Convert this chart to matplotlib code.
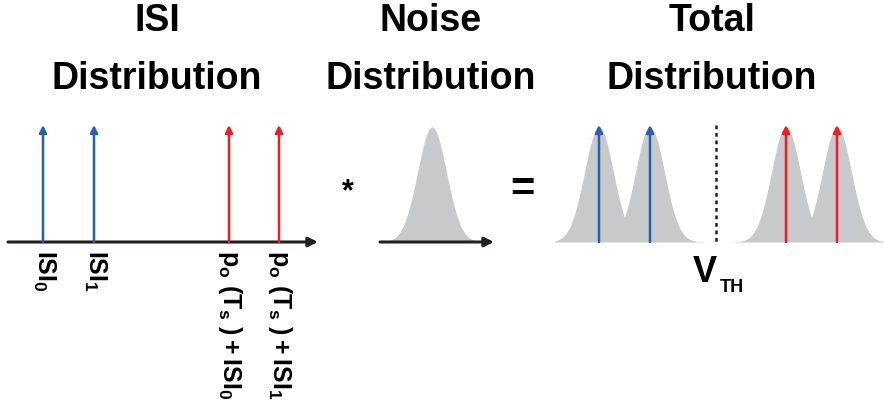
import numpy as np
import matplotlib
matplotlib.use("Agg")
import matplotlib.pyplot as plt

plt.rcParams['font.family'] = ['Liberation Sans Narrow', 'Liberation Sans', 'DejaVu Sans']
plt.rcParams['mathtext.fontset'] = 'custom'
plt.rcParams['mathtext.rm'] = 'Liberation Sans:bold'
plt.rcParams['mathtext.it'] = 'Liberation Sans:bold'
plt.rcParams['mathtext.bf'] = 'Liberation Sans:bold'
plt.rcParams['mathtext.default'] = 'rm'

# data (diagram positions on the pixel canvas)
titles = [("ISI", "Distribution"), ("Noise", "Distribution"), ("Total", "Distribution")]
title_x = [157, 431, 712]
isi_x = [43, 94]
isi_red_x = [229, 279]
isi_labels = [r"$ISI_0$", r"$ISI_1$", r"$p_o\ (T_s\ )+ISI_0$", r"$p_o\ (T_s\ )+ISI_1$"]
noise_center = 432
total_blue = [599, 650]
total_red = [786, 837]
v_th = 716
noise_sigma = 14.5
peak_h = 115.0

base_y = 242
top_y = 125
blue = '#2b5fad'
red = '#ee1c25'
gray = '#c8c9ca'

fig = plt.figure(figsize=(8.84, 4.03), dpi=100)
ax = fig.add_axes([0, 0, 1, 1])
ax.set_xlim(0, 884)
ax.set_ylim(403, 0)
ax.axis('off')

def axis_arrow(x0, x1):
    ax.annotate('', xy=(x1, base_y), xytext=(x0, base_y),
                arrowprops=dict(arrowstyle='-|>', color='#231f20', lw=2.2,
                                mutation_scale=14, shrinkA=0, shrinkB=0))

def impulse(x, c):
    ax.annotate('', xy=(x, top_y), xytext=(x, base_y),
                arrowprops=dict(arrowstyle='-|>', color=c, lw=1.8,
                                mutation_scale=11, shrinkA=0, shrinkB=0))

def gauss(xs, c):
    return peak_h * np.exp(-(xs - c) ** 2 / (2 * noise_sigma ** 2))

# titles
for (t1, t2), x in zip(titles, title_x):
    ax.text(x, 21, t1, ha='center', va='center', fontsize=27, fontweight='bold')
    ax.text(x, 79, t2, ha='center', va='center', fontsize=27, fontweight='bold')

# ISI panel
axis_arrow(8, 318)
for x in isi_x:
    impulse(x, blue)
for x in isi_red_x:
    impulse(x, red)
for x, lab in zip(isi_x + isi_red_x, isi_labels):
    ax.text(x + 1, 250, lab, rotation=270, ha='center', va='top', fontsize=18)

# noise panel
ax.text(348, 192, '*', ha='center', va='center', fontsize=22, fontweight='bold')
xs = np.linspace(noise_center - 45, noise_center + 45, 300)
ax.fill_between(xs, base_y, base_y - gauss(xs, noise_center), color=gray, lw=0)
axis_arrow(380, 494)
ax.text(522, 190, '=', ha='center', va='center', fontsize=30, fontweight='bold')

# total panel
xs = np.linspace(555, 884, 1200)
env = np.max([gauss(xs, c) for c in total_blue + total_red], axis=0)
ax.fill_between(xs, base_y, base_y - env, color=gray, lw=0)
ax.plot([v_th, v_th], [top_y, base_y], color='#231f20', lw=1.8, ls=(0, (1.5, 1.5)))
axis_arrow(555, 886)
for x in total_blue:
    impulse(x, blue)
for x in total_red:
    impulse(x, red)
ax.text(705, 273, 'V', ha='center', va='center', fontsize=26, fontweight='bold')
ax.text(732, 288, 'TH', ha='center', va='center', fontsize=13, fontweight='bold')

fig.savefig('out.png', dpi=100)
